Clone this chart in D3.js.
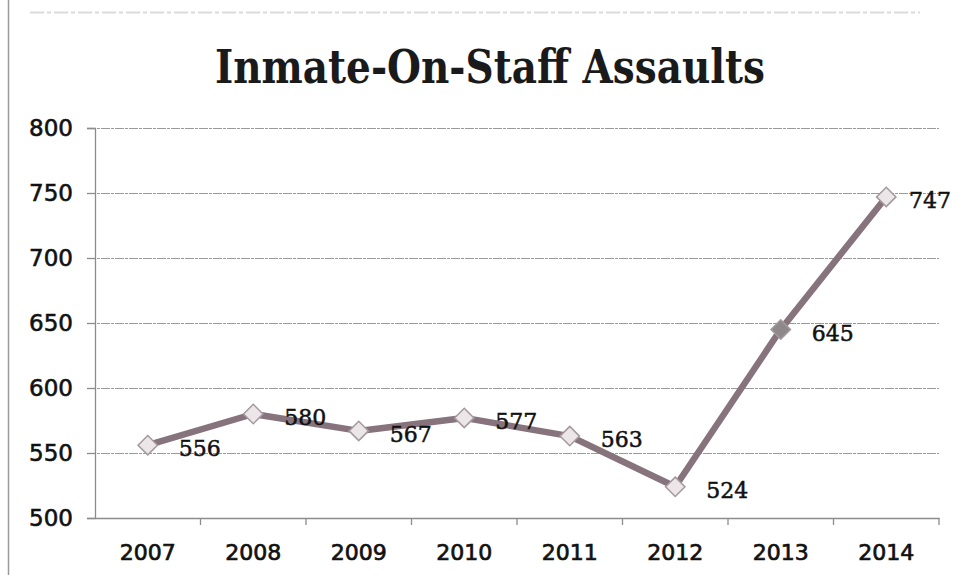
<!DOCTYPE html>
<html>
<head>
<meta charset="utf-8">
<script src="https://cdn.jsdelivr.net/npm/d3@7"></script>
<style>
  html, body { margin: 0; padding: 0; background: #fff; }
  svg { display: block; }
</style>
</head>
<body>
<script>
const years = ["2007", "2008", "2009", "2010", "2011", "2012", "2013", "2014"];
const assaults = [556, 580, 567, 577, 563, 524, 645, 747];
const yTicks = [500, 550, 600, 650, 700, 750, 800];
const title = "Inmate-On-Staff Assaults";

const W = 960, H = 575;
const margin = { left: 95, right: 21, top: 128, bottom: 57 };

const svg = d3.select("body").append("svg").attr("width", W).attr("height", H);

// page edge (scan border)
svg.append("line").attr("x1", 8.5).attr("x2", 8.5).attr("y1", 0).attr("y2", H)
  .attr("stroke", "#9a9a9a").attr("stroke-width", 1.5);
svg.append("line").attr("x1", 30).attr("x2", 920).attr("y1", 12.5).attr("y2", 12.5)
  .attr("stroke", "#dcdcdc").attr("stroke-width", 2).attr("stroke-dasharray", "14,3,4,3");

const x = d3.scaleBand().domain(years).range([margin.left, W - margin.right]);
const y = d3.scaleLinear().domain([500, 800]).range([H - margin.bottom, margin.top]);

// title
svg.append("text")
  .attr("x", 490).attr("y", 83)
  .attr("text-anchor", "middle")
  .attr("font-family", "'DejaVu Serif', serif")
  .attr("font-weight", "bold")
  .attr("font-size", 47)
  .attr("fill", "#1a1a1a")
  .attr("textLength", 550)
  .attr("lengthAdjust", "spacingAndGlyphs")
  .text(title);

// gridlines
svg.append("g").selectAll("line").data(yTicks.filter(d => d > 500)).join("line")
  .attr("x1", margin.left - 8).attr("x2", W - margin.right)
  .attr("y1", d => Math.round(y(d)) + 0.5).attr("y2", d => Math.round(y(d)) + 0.5)
  .attr("stroke", "#9a9a9a").attr("stroke-width", 1)
  .attr("stroke-dasharray", "9,1,3,1");

// y axis
const yAxis = svg.append("g")
  .attr("transform", `translate(${margin.left},0)`)
  .call(d3.axisLeft(y).tickValues(yTicks).tickSize(8).tickPadding(14).tickFormat(d3.format("d")));
yAxis.selectAll("path, line").attr("stroke", "#8c8c8c").attr("stroke-width", 1.3);
yAxis.selectAll("text")
  .attr("font-family", "'DejaVu Sans', sans-serif")
  .attr("font-size", 23).attr("fill", "#111")
  .attr("stroke", "#111").attr("stroke-width", 0.6);

// x axis
const xAxis = svg.append("g")
  .attr("transform", `translate(0,${y(500)})`)
  .call(d3.axisBottom(x).tickSize(0).tickPadding(26));
xAxis.select(".domain").attr("stroke", "#8c8c8c").attr("stroke-width", 1.3);
xAxis.selectAll("text")
  .attr("font-family", "'DejaVu Sans', sans-serif")
  .attr("font-size", 22).attr("fill", "#111")
  .attr("stroke", "#111").attr("stroke-width", 0.7);
// category boundary ticks
const bounds = years.map(d => x(d)).concat([x(years[years.length - 1]) + x.bandwidth()]);
svg.append("g").selectAll("line").data(bounds.slice(1)).join("line")
  .attr("x1", d => d).attr("x2", d => d)
  .attr("y1", y(500)).attr("y2", y(500) + 7)
  .attr("stroke", "#8c8c8c").attr("stroke-width", 1.3);

const cx = d => x(d) + x.bandwidth() / 2;
const pts = years.map((d, i) => ({ year: d, value: assaults[i] }));

// line
svg.append("path").datum(pts)
  .attr("fill", "none")
  .attr("stroke", "#86737b")
  .attr("stroke-width", 6.5)
  .attr("stroke-linejoin", "round")
  .attr("d", d3.line().x(d => cx(d.year)).y(d => y(d.value)));

// markers
svg.append("g").selectAll("path").data(pts).join("path")
  .attr("transform", d => `translate(${cx(d.year)},${y(d.value)})`)
  .attr("d", d3.symbol(d3.symbolDiamond2, 240)())
  .attr("fill", (d, i) => i === 6 ? "#8f888b" : "#ece6e8")
  .attr("stroke", "#a49a9e").attr("stroke-width", 1.5);

// data labels
svg.append("g").selectAll("text").data(pts).join("text")
  .attr("x", d => Math.min(cx(d.year) + 52, W - 30))
  .attr("y", d => y(d.value) + 11)
  .attr("text-anchor", "middle")
  .attr("font-family", "'DejaVu Serif', serif")
  .attr("font-size", 22)
  .attr("fill", "#111")
  .attr("stroke", "#111").attr("stroke-width", 0.5)
  .text(d => d.value);
</script>
</body>
</html>
